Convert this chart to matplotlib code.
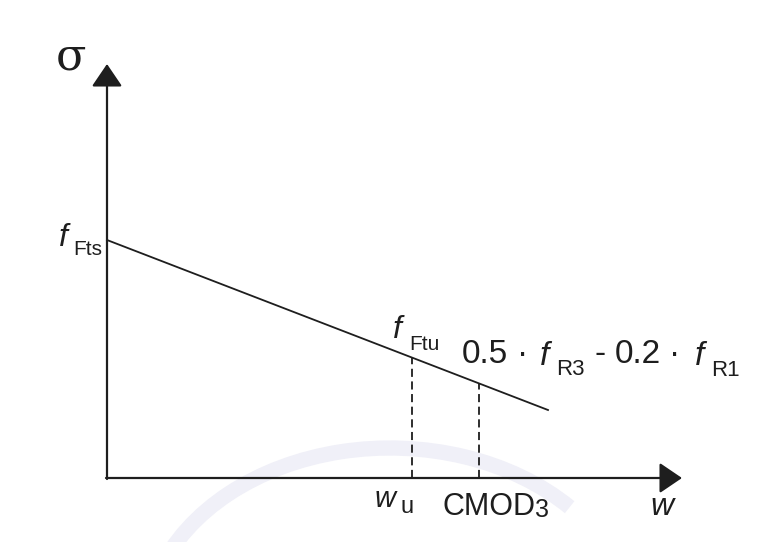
#import library
import matplotlib.pyplot as plt
from matplotlib.patches import Arc

#define datasets (schematic units)
f_fts = 2.38          # stress at w = 0
w_end = 4.41          # end of the softening line
sigma_end = 0.68      # stress at end of line
w_u = 3.05            # ultimate crack opening
cmod3 = 3.72          # CMOD_3

line_w = [0.0, w_end]
line_sigma = [f_fts, sigma_end]

def sigma_at(w):
    return f_fts + (sigma_end - f_fts) * w / w_end

#define fig and plot size
fig = plt.figure(figsize=(7.79, 5.42), dpi=100)
ax = fig.add_axes([0, 0, 1, 1])
ax.set_xlim(-1.07, 6.72)
ax.set_ylim(-0.64, 4.78)
ax.axis("off")

sans = "Liberation Sans"
ink = "#1e1e1e"

def txt(x, y, s, size, **kw):
    ax.text(x, y, s, fontsize=size, family=kw.pop("family", sans),
            ha=kw.pop("ha", "left"), va="baseline", color=ink, **kw)

#faint watermark arc
ax.add_patch(Arc((2.83, -1.55), 4.9, 3.7, theta1=35, theta2=165,
                 color="#f0f0f8", lw=11, zorder=0))

#axes arrows
arrow = dict(arrowstyle="-|>,head_length=1.4,head_width=0.95",
             mutation_scale=10, color=ink, lw=1.6, shrinkA=0, shrinkB=0)
ax.annotate("", xy=(0, 4.14), xytext=(0, -0.01), arrowprops=arrow)
ax.annotate("", xy=(5.75, 0), xytext=(-0.01, 0), arrowprops=arrow)

#softening line
ax.plot(line_w, line_sigma, color=ink, lw=1.3)

#dashed verticals
for wx in [w_u, cmod3]:
    ax.plot([wx, wx], [0, sigma_at(wx)], color=ink, lw=1.3,
            dashes=(4.5, 2.5))

#labels
txt(-0.51, 4.09, "σ", 32, family="DejaVu Serif")

txt(-0.48, 2.32, "f", 23, style="italic")
txt(-0.34, 2.23, "Fts", 15)

txt(w_u - 0.19, 1.40, "f", 23, style="italic")
txt(w_u - 0.03, 1.28, "Ftu", 15)

txt(3.55, 1.15, "0.5", 24)
txt(4.16, 1.15, "·", 24, ha="center")
txt(4.33, 1.13, "f", 24, style="italic")
txt(4.49, 1.03, "R3", 16)
txt(4.93, 1.15, "-", 24, ha="center")
txt(5.08, 1.15, "0.2", 24)
txt(5.68, 1.15, "·", 24, ha="center")
txt(5.88, 1.13, "f", 24, style="italic")
txt(6.04, 1.02, "R1", 16)

txt(w_u - 0.37, -0.29, "w", 21, style="italic")
txt(w_u - 0.12, -0.35, "u", 17)

txt(cmod3 - 0.37, -0.37, "CMOD", 22)
txt(cmod3 + 0.56, -0.39, "3", 18)

txt(5.43, -0.37, "w", 23, style="italic")

#save
fig.savefig("out.png", dpi=100)
